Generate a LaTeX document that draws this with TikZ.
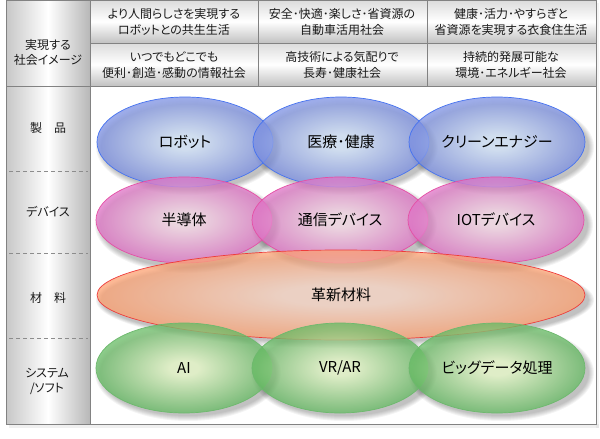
\documentclass[tikz,border=0pt]{standalone}
\usepackage{fontspec}
\setmainfont{Noto Sans CJK JP}[RawFeature=+palt]
\usetikzlibrary{shapes.geometric}
\definecolor{frameC}{RGB}{130,130,130}
\definecolor{blueIn}{RGB}{214,232,255}
\definecolor{blueOut}{RGB}{122,142,226}
\definecolor{blueLine}{RGB}{70,115,240}
\definecolor{pinkIn}{RGB}{250,220,234}
\definecolor{pinkOut}{RGB}{224,114,198}
\definecolor{pinkLine}{RGB}{228,80,165}
\definecolor{orIn}{RGB}{250,214,196}
\definecolor{orOut}{RGB}{252,160,112}
\definecolor{orLine}{RGB}{238,60,60}
\definecolor{grIn}{RGB}{234,253,202}
\definecolor{grOut}{RGB}{100,186,98}
\definecolor{grLine}{RGB}{110,185,110}
\pgfdeclareradialshading{blueshade}{\pgfpoint{0bp}{0bp}}{color(0bp)=(blueIn); color(4bp)=(blueIn); color(25bp)=(blueOut); color(50bp)=(blueOut)}
\pgfdeclareradialshading{pinkshade}{\pgfpoint{0bp}{0bp}}{color(0bp)=(pinkIn); color(4bp)=(pinkIn); color(25bp)=(pinkOut); color(50bp)=(pinkOut)}
\pgfdeclareradialshading{orshade}{\pgfpoint{0bp}{0bp}}{color(0bp)=(orIn); color(6bp)=(orIn); color(25bp)=(orOut); color(50bp)=(orOut)}
\pgfdeclareradialshading{grshade}{\pgfpoint{0bp}{0bp}}{color(0bp)=(grIn); color(4bp)=(grIn); color(25bp)=(grOut); color(50bp)=(grOut)}
\tikzset{
  hdrcell/.style={top color=black!14, bottom color=black!24, middle color=white, draw=frameC, line width=0.8pt},
  sidecell/.style={left color=black!22, right color=black!28, middle color=white, draw=frameC, line width=0.8pt},
  hdrtext/.style={font=\fontsize{12}{16}\selectfont, align=center, text=black!90, inner sep=0pt},
  sidetext/.style={font=\fontsize{12}{15}\selectfont, align=center, text=black!90, inner sep=0pt},
  ell/.style={ellipse, inner sep=0pt, fill opacity=0.75, text opacity=1, line width=0.7pt, font=\fontsize{15}{18}\selectfont, text=black},
  blueell/.style={ell, shading=blueshade, draw=blueLine, minimum width=176pt, minimum height=90pt},
  pinkell/.style={ell, shading=pinkshade, draw=pinkLine, minimum width=176pt, minimum height=86pt},
  orell/.style={ell, shading=orshade, draw=orLine, minimum width=488pt, minimum height=90pt},
  grell/.style={ell, shading=grshade, draw=grLine, minimum width=176pt, minimum height=90pt},
  sepline/.style={draw=black!45, dash pattern=on 4pt off 3pt, line width=0.7pt},
}
\newcommand{\softshadow}[3]{%
  \foreach \k in {5,4,3,2,1,0}{%
    \fill[black, opacity=0.045] (#1+4,#2+5) ellipse ({#3+\k} and {45+\k-2});
  }%
}
\begin{document}
\begin{tikzpicture}[x=1pt,y=-1pt]
\useasboundingbox (0,0) rectangle (600,439);
% faint shadow of the frame
\fill[black, opacity=0.06] (9,424) rectangle (599,428);
\fill[black, opacity=0.04] (596,3) rectangle (599,428);
% content area
\fill[white] (90,86) rectangle (596,424);
% header cells
\path[sidecell] (6,0) rectangle (90,86);
\path[hdrcell] (90,0) rectangle (258,43);
\path[hdrcell] (258,0) rectangle (427,43);
\path[hdrcell] (427,0) rectangle (596,43);
\path[hdrcell] (90,43) rectangle (258,86);
\path[hdrcell] (258,43) rectangle (427,86);
\path[hdrcell] (427,43) rectangle (596,86);
% side column
\path[sidecell] (6,86) rectangle (90,424);
\coordinate (s1l) at (9,171); \coordinate (s1r) at (88,171);
\coordinate (s2l) at (9,253); \coordinate (s2r) at (88,253);
\coordinate (s3l) at (9,338); \coordinate (s3r) at (88,338);
\draw[sepline] (s1l) -- (s1r);
\draw[sepline] (s2l) -- (s2r);
\draw[sepline] (s3l) -- (s3r);
% outer frame
\draw[frameC, line width=0.9pt] (6,0) rectangle (596,424);
% header texts
\node[sidetext] (hdrL) at (48,52) {実現する\\社会イメージ};
\node[hdrtext] (h11) at (174,22) {より人間らしさを実現する\\ロボットとの共生生活};
\node[hdrtext] (h12) at (342,22) {安全･快適･楽しさ･省資源の\\自動車活用社会};
\node[hdrtext] (h13) at (511,22) {健康･活力･やすらぎと\\省資源を実現する衣食住生活};
\node[hdrtext] (h21) at (174,65) {いつでもどこでも\\便利･創造･感動の情報社会};
\node[hdrtext] (h22) at (342,65) {高技術による気配りで\\長寿･健康社会};
\node[hdrtext] (h23) at (511,65) {持続的発展可能な\\環境･エネルギー社会};
% side labels
\node[sidetext] (r1) at (48,128) {製　品};
\node[sidetext] (r2) at (48,212) {デバイス};
\node[sidetext] (r3) at (48,298) {材　料};
\node[sidetext] (r4) at (47,381) {システム\\/ソフト};
% shadows
\softshadow{185}{142}{88}
\softshadow{341}{142}{88}
\softshadow{497}{142}{88}
\softshadow{184}{220}{88}
\softshadow{340}{220}{88}
\softshadow{496}{220}{88}
\softshadow{341}{295}{244}
\softshadow{184}{368}{88}
\softshadow{340}{368}{88}
\softshadow{497}{368}{88}
% ellipses
\node[blueell] (robot) at (185,142) {ロボット};
\node[blueell] (iryo) at (341,142) {医療･健康};
\node[blueell] (clean) at (497,142) {クリーンエナジー};
\node[pinkell] (semi) at (184,220) {半導体};
\node[pinkell] (tsushin) at (340,220) {通信デバイス};
\node[pinkell] (iot) at (496,220) {IOTデバイス};
\node[orell] (zairyo) at (341,295) {革新材料};
\node[grell] (ai) at (184,368) {AI};
\node[grell] (vrar) at (340,368) {VR/AR};
\node[grell] (big) at (497,368) {ビッグデータ処理};
\end{tikzpicture}
\end{document}
